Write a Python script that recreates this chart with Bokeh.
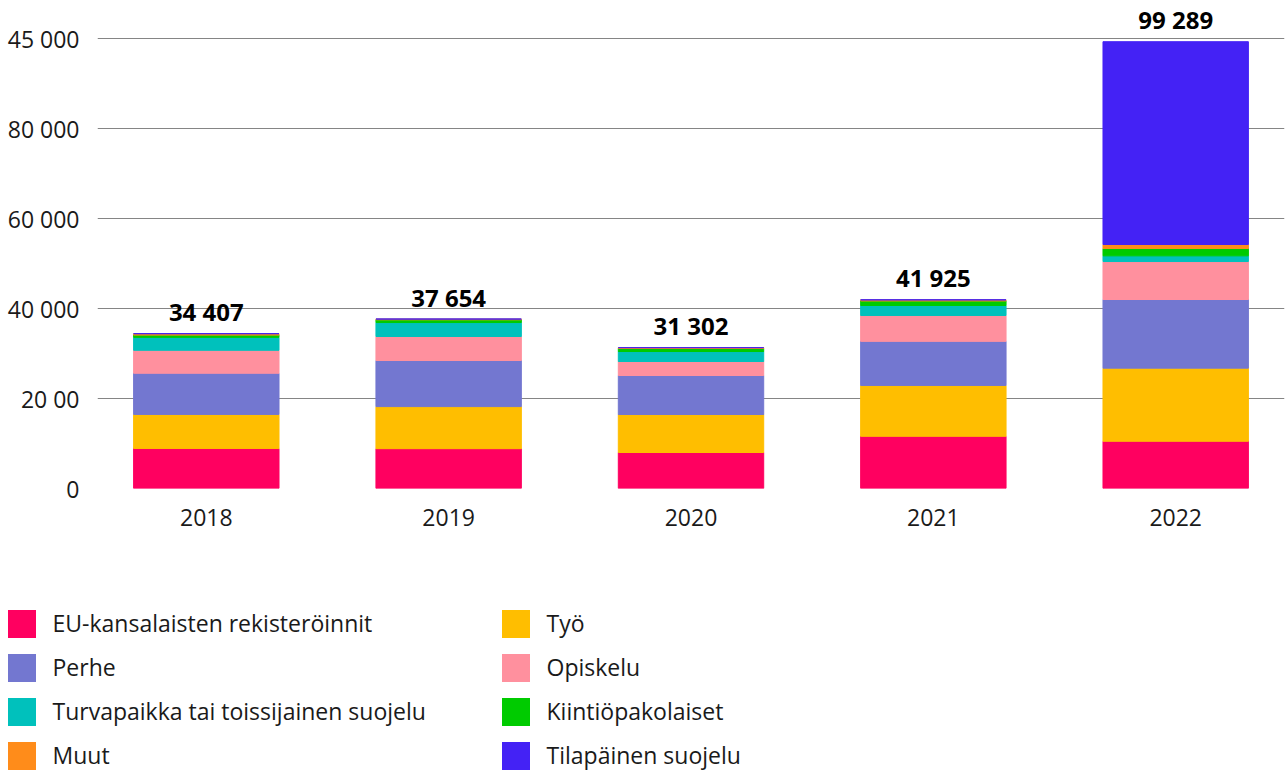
from bokeh.plotting import figure
from bokeh.models import ColumnDataSource, FixedTicker, Legend, LegendItem, FactorRange, Range1d
from bokeh.core.properties import value
from bokeh.embed import file_html
from bokeh.resources import INLINE

years = ["2018", "2019", "2020", "2021", "2022"]
eu = [8900, 8850, 8000, 11600, 10500]
tyo = [7560, 9350, 8440, 11300, 16240]
perhe = [9150, 10250, 8670, 9800, 15260]
opiskelu = [5100, 5330, 3110, 5750, 8440]
turva = [2880, 3100, 2220, 2220, 1260]
kiintio = [500, 600, 670, 1000, 1630]
muut = [317, 174, 192, 255, 890]
tilap = [0, 0, 0, 0, 45069]
totals = [34407, 37654, 31302, 41925, 99289]
total_labels = ["34 407", "37 654", "31 302", "41 925", "99 289"]
ytick_values = [0, 20000, 40000, 60000, 80000, 100000]
ytick_labels = ["0", "20 00", "40 000", "60 000", "80 000", "45 000"]

series_names = ["EU-kansalaisten rekisteröinnit", "Työ", "Perhe", "Opiskelu",
                "Turvapaikka tai toissijainen suojelu", "Kiintiöpakolaiset", "Muut",
                "Tilapäinen suojelu"]
keys = ["eu", "tyo", "perhe", "opiskelu", "turva", "kiintio", "muut", "tilap"]
colors = ["#FF0060", "#FFBE00", "#7377D0", "#FF909E", "#00C1BC", "#00CB00", "#FF8C1A", "#4422F5"]

src = ColumnDataSource(dict(year=years, eu=eu, tyo=tyo, perhe=perhe, opiskelu=opiskelu,
                            turva=turva, kiintio=kiintio, muut=muut, tilap=tilap))

FONT = "Open Sans"

# main chart
p = figure(x_range=FactorRange(factors=years, range_padding=-0.051, range_padding_units="absolute"),
           y_range=Range1d(0, 106667), width=1287, height=540,
           output_backend="svg", toolbar_location=None,
           min_border_left=97, min_border_right=3, min_border_top=8, min_border_bottom=52)

rs = p.vbar_stack(keys, x="year", width=0.6, color=colors, source=src)

p.text(x=years, y=totals, text=total_labels, text_align="center", text_baseline="alphabetic",
       y_offset=-22, text_font=value(FONT), text_font_style="bold", text_font_size="24px",
       text_color="black")

p.outline_line_color = None
p.xgrid.grid_line_color = None
p.ygrid.grid_line_color = "#858585"
p.ygrid.grid_line_width = 1.2

p.yaxis.ticker = FixedTicker(ticks=ytick_values)
p.yaxis.major_label_overrides = {v: l for v, l in zip(ytick_values, ytick_labels)}
for ax in (p.xaxis[0], p.yaxis[0]):
    ax.axis_line_color = None
    ax.major_tick_line_color = None
    ax.minor_tick_line_color = None
    ax.major_label_text_font = FONT
    ax.major_label_text_font_size = "23px"
    ax.major_label_text_color = "#1a1a1a"
p.yaxis.major_label_standoff = 12
p.xaxis.major_label_standoff = 14

# legend panel (separate root, same data; its view window lies below the bars so only the legend shows)
lf = figure(x_range=FactorRange(factors=years), y_range=Range1d(-2, -1),
            width=1287, height=231, output_backend="svg", toolbar_location=None,
            min_border=0, x_axis_type=None, y_axis_type=None)
lf.outline_line_color = None
lf.xgrid.visible = False
lf.ygrid.visible = False
sw = lf.vbar_stack(keys, x="year", width=0.0001, fill_color=colors, line_color=None, source=src)

col1 = [0, 2, 4, 6]
col2 = [1, 3, 5, 7]
common = dict(glyph_width=35, glyph_height=35, label_standoff=14, spacing=9, padding=0, margin=0,
              border_line_color=None, background_fill_alpha=0, label_text_font=FONT,
              label_text_font_size="23px", label_height=35, label_text_color="#1a1a1a")
leg1 = Legend(items=[LegendItem(label=series_names[i], renderers=[sw[i]]) for i in col1],
              location=(3.5, -1.5), **common)
leg2 = Legend(items=[LegendItem(label=series_names[i], renderers=[sw[i]]) for i in col2],
              location=(497.5, -1.5), **common)
lf.add_layout(leg1)
lf.add_layout(leg2)

open("out.html", "w").write(file_html([p, lf], INLINE))
